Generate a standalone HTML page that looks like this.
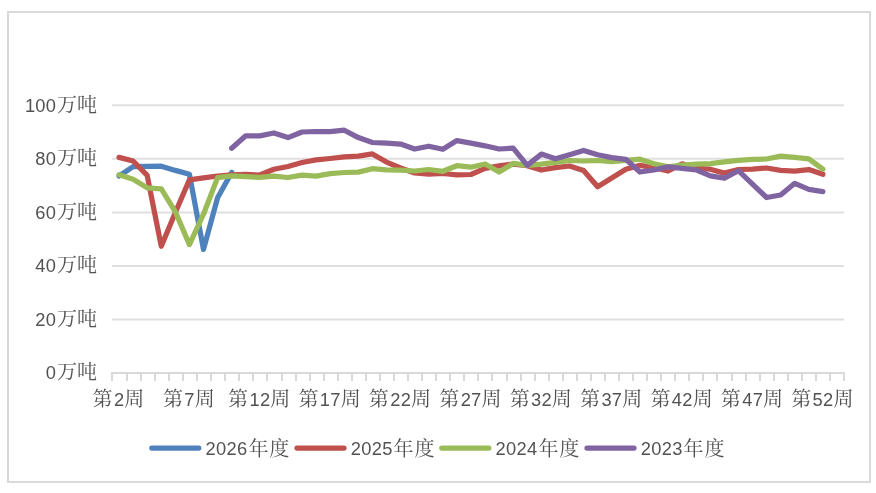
<!DOCTYPE html>
<html lang="zh"><head><meta charset="utf-8"><title>chart</title>
<style>
html,body{margin:0;padding:0;background:#fff;}
body{width:876px;height:493px;overflow:hidden;}
svg{display:block;}
text{fill:#525252;font-family:"Liberation Sans","Noto Serif CJK SC",serif;}
.n{font-family:"Liberation Sans",sans-serif;font-size:18.3px;letter-spacing:0.3px;}
.c{font-family:"Noto Serif CJK SC","Noto Sans CJK SC",serif;font-size:20px;}
</style></head><body>
<svg width="876" height="493" viewBox="0 0 876 493">
<rect x="0" y="0" width="876" height="493" fill="#fff"/>
<rect x="8" y="12" width="862" height="470" fill="none" stroke="#d9d9d9" stroke-width="2"/>

<line x1="112" x2="844" y1="105.2" y2="105.2" stroke="#e0e0e0" stroke-width="2"/>
<line x1="112" x2="844" y1="158.8" y2="158.8" stroke="#e0e0e0" stroke-width="2"/>
<line x1="112" x2="844" y1="212.4" y2="212.4" stroke="#e0e0e0" stroke-width="2"/>
<line x1="112" x2="844" y1="266.0" y2="266.0" stroke="#e0e0e0" stroke-width="2"/>
<line x1="112" x2="844" y1="319.6" y2="319.6" stroke="#e0e0e0" stroke-width="2"/>
<line x1="111" x2="845" y1="373" y2="373" stroke="#d9d9d9" stroke-width="2"/>
<line x1="112.00" x2="112.00" y1="373" y2="381" stroke="#d9d9d9" stroke-width="2"/>
<line x1="127.00" x2="127.00" y1="373" y2="381" stroke="#d9d9d9" stroke-width="2"/>
<line x1="141.00" x2="141.00" y1="373" y2="381" stroke="#d9d9d9" stroke-width="2"/>
<line x1="155.00" x2="155.00" y1="373" y2="381" stroke="#d9d9d9" stroke-width="2"/>
<line x1="169.00" x2="169.00" y1="373" y2="381" stroke="#d9d9d9" stroke-width="2"/>
<line x1="183.00" x2="183.00" y1="373" y2="381" stroke="#d9d9d9" stroke-width="2"/>
<line x1="197.00" x2="197.00" y1="373" y2="381" stroke="#d9d9d9" stroke-width="2"/>
<line x1="211.00" x2="211.00" y1="373" y2="381" stroke="#d9d9d9" stroke-width="2"/>
<line x1="225.00" x2="225.00" y1="373" y2="381" stroke="#d9d9d9" stroke-width="2"/>
<line x1="239.00" x2="239.00" y1="373" y2="381" stroke="#d9d9d9" stroke-width="2"/>
<line x1="253.00" x2="253.00" y1="373" y2="381" stroke="#d9d9d9" stroke-width="2"/>
<line x1="267.00" x2="267.00" y1="373" y2="381" stroke="#d9d9d9" stroke-width="2"/>
<line x1="282.00" x2="282.00" y1="373" y2="381" stroke="#d9d9d9" stroke-width="2"/>
<line x1="296.00" x2="296.00" y1="373" y2="381" stroke="#d9d9d9" stroke-width="2"/>
<line x1="310.00" x2="310.00" y1="373" y2="381" stroke="#d9d9d9" stroke-width="2"/>
<line x1="324.00" x2="324.00" y1="373" y2="381" stroke="#d9d9d9" stroke-width="2"/>
<line x1="338.00" x2="338.00" y1="373" y2="381" stroke="#d9d9d9" stroke-width="2"/>
<line x1="352.00" x2="352.00" y1="373" y2="381" stroke="#d9d9d9" stroke-width="2"/>
<line x1="366.00" x2="366.00" y1="373" y2="381" stroke="#d9d9d9" stroke-width="2"/>
<line x1="380.00" x2="380.00" y1="373" y2="381" stroke="#d9d9d9" stroke-width="2"/>
<line x1="394.00" x2="394.00" y1="373" y2="381" stroke="#d9d9d9" stroke-width="2"/>
<line x1="408.00" x2="408.00" y1="373" y2="381" stroke="#d9d9d9" stroke-width="2"/>
<line x1="422.00" x2="422.00" y1="373" y2="381" stroke="#d9d9d9" stroke-width="2"/>
<line x1="436.00" x2="436.00" y1="373" y2="381" stroke="#d9d9d9" stroke-width="2"/>
<line x1="450.00" x2="450.00" y1="373" y2="381" stroke="#d9d9d9" stroke-width="2"/>
<line x1="464.00" x2="464.00" y1="373" y2="381" stroke="#d9d9d9" stroke-width="2"/>
<line x1="478.00" x2="478.00" y1="373" y2="381" stroke="#d9d9d9" stroke-width="2"/>
<line x1="492.00" x2="492.00" y1="373" y2="381" stroke="#d9d9d9" stroke-width="2"/>
<line x1="507.00" x2="507.00" y1="373" y2="381" stroke="#d9d9d9" stroke-width="2"/>
<line x1="521.00" x2="521.00" y1="373" y2="381" stroke="#d9d9d9" stroke-width="2"/>
<line x1="535.00" x2="535.00" y1="373" y2="381" stroke="#d9d9d9" stroke-width="2"/>
<line x1="549.00" x2="549.00" y1="373" y2="381" stroke="#d9d9d9" stroke-width="2"/>
<line x1="563.00" x2="563.00" y1="373" y2="381" stroke="#d9d9d9" stroke-width="2"/>
<line x1="577.00" x2="577.00" y1="373" y2="381" stroke="#d9d9d9" stroke-width="2"/>
<line x1="591.00" x2="591.00" y1="373" y2="381" stroke="#d9d9d9" stroke-width="2"/>
<line x1="605.00" x2="605.00" y1="373" y2="381" stroke="#d9d9d9" stroke-width="2"/>
<line x1="619.00" x2="619.00" y1="373" y2="381" stroke="#d9d9d9" stroke-width="2"/>
<line x1="633.00" x2="633.00" y1="373" y2="381" stroke="#d9d9d9" stroke-width="2"/>
<line x1="647.00" x2="647.00" y1="373" y2="381" stroke="#d9d9d9" stroke-width="2"/>
<line x1="661.00" x2="661.00" y1="373" y2="381" stroke="#d9d9d9" stroke-width="2"/>
<line x1="675.00" x2="675.00" y1="373" y2="381" stroke="#d9d9d9" stroke-width="2"/>
<line x1="689.00" x2="689.00" y1="373" y2="381" stroke="#d9d9d9" stroke-width="2"/>
<line x1="703.00" x2="703.00" y1="373" y2="381" stroke="#d9d9d9" stroke-width="2"/>
<line x1="717.00" x2="717.00" y1="373" y2="381" stroke="#d9d9d9" stroke-width="2"/>
<line x1="732.00" x2="732.00" y1="373" y2="381" stroke="#d9d9d9" stroke-width="2"/>
<line x1="746.00" x2="746.00" y1="373" y2="381" stroke="#d9d9d9" stroke-width="2"/>
<line x1="760.00" x2="760.00" y1="373" y2="381" stroke="#d9d9d9" stroke-width="2"/>
<line x1="774.00" x2="774.00" y1="373" y2="381" stroke="#d9d9d9" stroke-width="2"/>
<line x1="788.00" x2="788.00" y1="373" y2="381" stroke="#d9d9d9" stroke-width="2"/>
<line x1="802.00" x2="802.00" y1="373" y2="381" stroke="#d9d9d9" stroke-width="2"/>
<line x1="816.00" x2="816.00" y1="373" y2="381" stroke="#d9d9d9" stroke-width="2"/>
<line x1="830.00" x2="830.00" y1="373" y2="381" stroke="#d9d9d9" stroke-width="2"/>
<line x1="844.00" x2="844.00" y1="373" y2="381" stroke="#d9d9d9" stroke-width="2"/>
<text x="97.1" y="112.0" text-anchor="end"><tspan class="n">100</tspan><tspan class="c" dx="0.8">万吨</tspan></text>
<text x="97.1" y="165.0" text-anchor="end"><tspan class="n">80</tspan><tspan class="c" dx="0.8">万吨</tspan></text>
<text x="97.1" y="219.0" text-anchor="end"><tspan class="n">60</tspan><tspan class="c" dx="0.8">万吨</tspan></text>
<text x="97.1" y="271.6" text-anchor="end"><tspan class="n">40</tspan><tspan class="c" dx="0.8">万吨</tspan></text>
<text x="97.1" y="326.2" text-anchor="end"><tspan class="n">20</tspan><tspan class="c" dx="0.8">万吨</tspan></text>
<text x="97.1" y="379.0" text-anchor="end"><tspan class="n">0</tspan><tspan class="c" dx="0.8">万吨</tspan></text>
<text x="118.44" y="406.1" text-anchor="middle"><tspan class="c">第</tspan><tspan class="n" dx="1.4">2</tspan><tspan class="c" dx="-0.1">周</tspan></text>
<text x="188.82" y="406.1" text-anchor="middle"><tspan class="c">第</tspan><tspan class="n" dx="1.4">7</tspan><tspan class="c" dx="-0.1">周</tspan></text>
<text x="259.21" y="406.1" text-anchor="middle"><tspan class="c">第</tspan><tspan class="n" dx="1.4">12</tspan><tspan class="c" dx="-0.1">周</tspan></text>
<text x="329.59" y="406.1" text-anchor="middle"><tspan class="c">第</tspan><tspan class="n" dx="1.4">17</tspan><tspan class="c" dx="-0.1">周</tspan></text>
<text x="399.98" y="406.1" text-anchor="middle"><tspan class="c">第</tspan><tspan class="n" dx="1.4">22</tspan><tspan class="c" dx="-0.1">周</tspan></text>
<text x="470.36" y="406.1" text-anchor="middle"><tspan class="c">第</tspan><tspan class="n" dx="1.4">27</tspan><tspan class="c" dx="-0.1">周</tspan></text>
<text x="540.75" y="406.1" text-anchor="middle"><tspan class="c">第</tspan><tspan class="n" dx="1.4">32</tspan><tspan class="c" dx="-0.1">周</tspan></text>
<text x="611.13" y="406.1" text-anchor="middle"><tspan class="c">第</tspan><tspan class="n" dx="1.4">37</tspan><tspan class="c" dx="-0.1">周</tspan></text>
<text x="681.52" y="406.1" text-anchor="middle"><tspan class="c">第</tspan><tspan class="n" dx="1.4">42</tspan><tspan class="c" dx="-0.1">周</tspan></text>
<text x="751.90" y="406.1" text-anchor="middle"><tspan class="c">第</tspan><tspan class="n" dx="1.4">47</tspan><tspan class="c" dx="-0.1">周</tspan></text>
<text x="822.28" y="406.1" text-anchor="middle"><tspan class="c">第</tspan><tspan class="n" dx="1.4">52</tspan><tspan class="c" dx="-0.1">周</tspan></text>
<polyline points="119.04,176.0 133.12,166.6 147.19,166.3 161.27,166.2 175.35,170.4 189.42,174.2 203.50,249.4 217.58,197.8 231.65,172.4" fill="none" stroke="#4f81bd" stroke-width="5.25" stroke-linejoin="round" stroke-linecap="round"/>
<polyline points="119.04,157.4 133.12,161.0 147.19,175.4 161.27,246.3 175.35,212.4 189.42,179.8 203.50,177.8 217.58,176.0 231.65,174.8 245.73,174.4 259.81,175.0 273.88,169.3 287.96,166.5 302.04,162.5 316.12,159.9 330.19,158.5 344.27,156.8 358.35,156.1 372.42,153.9 386.50,162.1 400.58,168.0 414.65,172.9 428.73,174.2 442.81,173.5 456.88,174.8 470.96,174.5 485.04,168.4 499.12,165.9 513.19,164.1 527.27,165.7 541.35,170.0 555.42,167.6 569.50,166.0 583.58,170.5 597.65,186.8 611.73,178.0 625.81,169.2 639.88,165.4 653.96,167.6 668.04,171.0 682.12,163.8 696.19,168.4 710.27,169.2 724.35,173.1 738.42,169.5 752.50,169.2 766.58,168.0 780.65,170.4 794.73,171.2 808.81,169.6 822.88,174.3" fill="none" stroke="#c0504d" stroke-width="5.25" stroke-linejoin="round" stroke-linecap="round"/>
<polyline points="119.04,174.8 133.12,179.3 147.19,187.8 161.27,188.9 175.35,211.8 189.42,244.6 203.50,214.2 217.58,177.6 231.65,175.9 245.73,176.7 259.81,177.3 273.88,176.1 287.96,177.5 302.04,175.1 316.12,176.2 330.19,173.6 344.27,172.5 358.35,172.1 372.42,168.7 386.50,169.9 400.58,170.2 414.65,171.0 428.73,169.5 442.81,171.3 456.88,165.7 470.96,167.2 485.04,164.0 499.12,172.0 513.19,163.4 527.27,165.4 541.35,164.2 555.42,162.3 569.50,160.5 583.58,161.0 597.65,160.5 611.73,161.7 625.81,160.4 639.88,159.2 653.96,163.7 668.04,166.8 682.12,165.1 696.19,164.2 710.27,163.6 724.35,161.9 738.42,160.4 752.50,159.4 766.58,159.0 780.65,156.1 794.73,157.4 808.81,158.8 822.88,169.2" fill="none" stroke="#9bbb59" stroke-width="5.25" stroke-linejoin="round" stroke-linecap="round"/>
<polyline points="231.65,148.3 245.73,135.8 259.81,135.9 273.88,133.0 287.96,137.6 302.04,132.0 316.12,131.5 330.19,131.6 344.27,130.2 358.35,137.6 372.42,142.5 386.50,143.1 400.58,144.1 414.65,149.0 428.73,146.2 442.81,149.3 456.88,140.6 470.96,143.2 485.04,145.8 499.12,149.0 513.19,148.2 527.27,165.4 541.35,154.1 555.42,158.8 569.50,154.7 583.58,150.4 597.65,154.8 611.73,157.6 625.81,159.3 639.88,172.0 653.96,170.0 668.04,166.9 682.12,168.3 696.19,169.8 710.27,175.8 724.35,178.1 738.42,170.7 752.50,184.2 766.58,197.5 780.65,195.0 794.73,183.3 808.81,189.4 822.88,191.7" fill="none" stroke="#8064a2" stroke-width="5.25" stroke-linejoin="round" stroke-linecap="round"/>
<line x1="151.8" x2="198.8" y1="448.1" y2="448.1" stroke="#4f81bd" stroke-width="5.25" stroke-linecap="round"/>
<text x="205.6" y="455"><tspan class="n">2026</tspan><tspan class="c" dx="0.9" dy="0.5" style="letter-spacing:0.9px">年度</tspan></text>
<line x1="297.0" x2="344.0" y1="448.1" y2="448.1" stroke="#c0504d" stroke-width="5.25" stroke-linecap="round"/>
<text x="350.8" y="455"><tspan class="n">2025</tspan><tspan class="c" dx="0.9" dy="0.5" style="letter-spacing:0.9px">年度</tspan></text>
<line x1="441.8" x2="488.8" y1="448.1" y2="448.1" stroke="#9bbb59" stroke-width="5.25" stroke-linecap="round"/>
<text x="495.6" y="455"><tspan class="n">2024</tspan><tspan class="c" dx="0.9" dy="0.5" style="letter-spacing:0.9px">年度</tspan></text>
<line x1="587.0" x2="634.0" y1="448.1" y2="448.1" stroke="#8064a2" stroke-width="5.25" stroke-linecap="round"/>
<text x="640.8" y="455"><tspan class="n">2023</tspan><tspan class="c" dx="0.9" dy="0.5" style="letter-spacing:0.9px">年度</tspan></text>
</svg></body></html>
